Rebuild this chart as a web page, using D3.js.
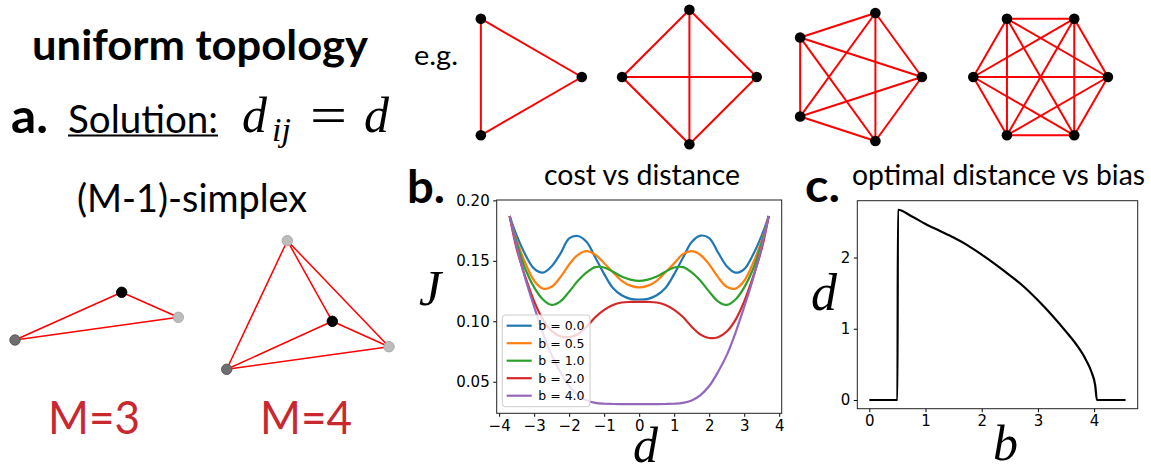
<!DOCTYPE html>
<html>
<head>
<meta charset="utf-8">
<script src="https://cdn.jsdelivr.net/npm/d3@7"></script>
<style>
  body { margin: 0; background: #fff; }
  svg { display: block; }
</style>
</head>
<body>
<svg id="fig" width="1151" height="467"></svg>
<script>
// ---- data ----
// panel b: cost J vs distance d for several biases
const dVals = [-3.7, -3.5, -3.25, -3.0, -2.75, -2.5, -2.25, -2.0, -1.75, -1.5, -1.25, -1.0, -0.75, -0.5, -0.25, 0,
               0.25, 0.5, 0.75, 1.0, 1.25, 1.5, 1.75, 2.0, 2.25, 2.5, 2.75, 3.0, 3.25, 3.5, 3.7];
const costB00 = [0.187, 0.171, 0.155, 0.1435, 0.1402, 0.1455, 0.156, 0.1685, 0.1705, 0.1655, 0.1525, 0.139, 0.1275, 0.1215, 0.1185, 0.118,
                 0.1185, 0.1215, 0.1275, 0.139, 0.1525, 0.1655, 0.1708, 0.1688, 0.157, 0.1455, 0.1402, 0.1432, 0.155, 0.171, 0.187];
const costB05 = [0.187, 0.167, 0.148, 0.1335, 0.127, 0.1285, 0.1365, 0.147, 0.155, 0.158, 0.155, 0.148, 0.1405, 0.1335, 0.1295, 0.128,
                 0.1295, 0.1335, 0.1405, 0.148, 0.1555, 0.158, 0.1548, 0.147, 0.1365, 0.1285, 0.127, 0.1335, 0.148, 0.167, 0.187];
const costB10 = [0.187, 0.165, 0.143, 0.128, 0.118, 0.1135, 0.1165, 0.1245, 0.1335, 0.1405, 0.1448, 0.1445, 0.141, 0.137, 0.1345, 0.1334,
                 0.1345, 0.137, 0.141, 0.1445, 0.1448, 0.1405, 0.1335, 0.1245, 0.1165, 0.1135, 0.118, 0.128, 0.143, 0.165, 0.187];
const costB20 = [0.187, 0.160, 0.1365, 0.1165, 0.1015, 0.092, 0.0875, 0.087, 0.0893, 0.0955, 0.1035, 0.1095, 0.1135, 0.1155, 0.116, 0.116,
                 0.116, 0.1155, 0.1135, 0.1095, 0.1035, 0.0955, 0.089, 0.0862, 0.0868, 0.0915, 0.1012, 0.1165, 0.1365, 0.160, 0.187];
const costB40 = [0.187, 0.162, 0.135, 0.112, 0.0905, 0.072, 0.058, 0.0465, 0.039, 0.0345, 0.0325, 0.0318, 0.0316, 0.0315, 0.0315, 0.0315,
                 0.0315, 0.0315, 0.0316, 0.0318, 0.0325, 0.0345, 0.039, 0.0465, 0.058, 0.072, 0.0905, 0.112, 0.135, 0.162, 0.187];
const seriesLabels = ["b = 0.0", "b = 0.5", "b = 1.0", "b = 2.0", "b = 4.0"];
const xTicksB = [-4, -3, -2, -1, 0, 1, 2, 3, 4];
const yTicksB = [0.05, 0.10, 0.15, 0.20];

// panel c: optimal distance vs bias
const biasVals = [0, 0.5, 0.51, 0.75, 1.0, 1.25, 1.5, 1.75, 2.0, 2.25, 2.5, 2.75, 3.0, 3.25, 3.5, 3.7, 3.85, 3.95, 4.02, 4.05, 4.56];
const optDist  = [0, 0, 2.67, 2.58, 2.47, 2.375, 2.28, 2.17, 2.04, 1.90, 1.75, 1.59, 1.40, 1.19, 0.96, 0.76, 0.57, 0.40, 0.20, 0, 0];
const xTicksC = [0, 1, 2, 3, 4];
const yTicksC = [0, 1, 2];

// example graphs (complete graphs on M nodes)
const exampleM = [3, 4, 5, 6];

const tab10 = ["#1f77b4", "#ff7f0e", "#2ca02c", "#d62728", "#9467bd"];
const costSeries = [costB00, costB05, costB10, costB20, costB40];

const svg = d3.select("#fig");
const sans = "Lato, 'Open Sans', sans-serif";
const serif = "'Liberation Serif', 'DejaVu Serif', serif";

function addText(x, y, str, size, opts = {}) {
    const t = svg.append("text")
        .attr("x", x).attr("y", y)
        .attr("font-family", opts.family || sans)
        .attr("font-size", size)
        .attr("font-weight", opts.weight || "normal")
        .attr("font-style", opts.style || "normal")
        .attr("fill", opts.fill || "#000")
        .attr("text-anchor", opts.anchor || "start")
        .text(str);
    if (opts.width) t.attr("textLength", opts.width).attr("lengthAdjust", "spacingAndGlyphs");
    return t;
}

// ---- panel a: texts ----
addText(32, 60, "uniform topology", 42, {weight: "bold", width: 336});
addText(11, 133, "a.", 48, {weight: "bold", width: 37});
addText(68, 133, "Solution:", 38, {width: 150});
svg.append("line").attr("x1", 68).attr("x2", 218).attr("y1", 135.5).attr("y2", 135.5)
    .attr("stroke", "#000").attr("stroke-width", 2);
addText(242, 131.7, "d", 50, {family: serif, style: "italic"});
addText(272, 141, "ij", 34, {family: serif, style: "italic"});
addText(328.5, 133, "=", 52, {family: serif, anchor: "middle", width: 37});
addText(364, 131.7, "d", 50, {family: serif, style: "italic"});
addText(77, 212, "(M-1)-simplex", 38, {width: 230});
addText(48, 434, "M=3", 46, {fill: "#c8282e", width: 92});
addText(260, 434, "M=4", 46, {fill: "#c8282e", width: 92});
addText(414, 65, "e.g.", 27, {width: 44});

// simplex sketches
const simplexes = [
    {nodes: [[15, 340, "dark"], [121.7, 292.3, "black"], [178.3, 317.3, "light"]]},
    {nodes: [[287.3, 240.7, "light"], [332.3, 321.3, "black"], [389, 346.7, "light"], [226.7, 369.3, "dark"]]}
];
const nodeFill = {dark: "#6f6f6f", light: "#bcbcbc", black: "#000"};
const nodeStroke = {dark: "#595959", light: "#a9a9a9", black: "#000"};
simplexes.forEach(s => {
    const g = svg.append("g");
    const pairs = d3.cross(d3.range(s.nodes.length), d3.range(s.nodes.length)).filter(([i, j]) => i < j);
    g.selectAll("line").data(pairs).enter().append("line")
        .attr("x1", p => s.nodes[p[0]][0]).attr("y1", p => s.nodes[p[0]][1])
        .attr("x2", p => s.nodes[p[1]][0]).attr("y2", p => s.nodes[p[1]][1])
        .attr("stroke", "#ff0000").attr("stroke-width", 1.5);
    g.selectAll("circle").data(s.nodes).enter().append("circle")
        .attr("cx", n => n[0]).attr("cy", n => n[1]).attr("r", 5.2)
        .attr("fill", n => nodeFill[n[2]]).attr("stroke", n => nodeStroke[n[2]]).attr("stroke-width", 1);
});

// complete graph examples, each a regular polygon pointing right
const graphCx = [514.5, 689.4, 854.6, 1040.6];
exampleM.forEach((m, k) => {
    const r = 67.3, cy = 77;
    const pts = d3.range(m).map(i => [graphCx[k] + r * Math.cos(2 * Math.PI * i / m), cy + r * Math.sin(2 * Math.PI * i / m)]);
    const pairs = d3.cross(d3.range(m), d3.range(m)).filter(([i, j]) => i < j);
    const g = svg.append("g");
    g.selectAll("line").data(pairs).enter().append("line")
        .attr("x1", p => pts[p[0]][0]).attr("y1", p => pts[p[0]][1])
        .attr("x2", p => pts[p[1]][0]).attr("y2", p => pts[p[1]][1])
        .attr("stroke", "#ff0000").attr("stroke-width", 2);
    g.selectAll("circle").data(pts).enter().append("circle")
        .attr("cx", p => p[0]).attr("cy", p => p[1]).attr("r", 5.3).attr("fill", "#000");
});

// ---- shared axis styling ----
function styleAxis(g) {
    g.select(".domain").remove();
    g.selectAll(".tick line").attr("stroke", "#000").attr("stroke-width", 1);
    g.selectAll(".tick text").attr("font-family", "'DejaVu Sans', sans-serif").attr("font-size", 15).attr("fill", "#000");
}

// ---- panel b: cost vs distance ----
const xB = d3.scaleLinear().domain([-4.07, 4.07]).range([496.7, 781.7]);
const yB = d3.scaleLinear().domain([0.0239, 0.2003]).range([413.3, 200]);

addText(407, 203, "b.", 46, {weight: "bold", width: 38});
addText(544, 185, "cost vs distance", 29, {width: 196});

svg.append("g").attr("transform", "translate(0,413.3)")
    .call(d3.axisBottom(xB).tickValues(xTicksB).tickSize(3.5).tickPadding(3.5).tickFormat(d3.format("d")))
    .call(styleAxis);
svg.append("g").attr("transform", "translate(496.7,0)")
    .call(d3.axisLeft(yB).tickValues(yTicksB).tickSize(3.5).tickPadding(3.5).tickFormat(d3.format(".2f")))
    .call(styleAxis);

const lineB = d3.line()
    .x((d, i) => xB(dVals[i]))
    .y(d => yB(d))
    .curve(d3.curveCatmullRom.alpha(0.5));

svg.append("g").selectAll("path").data(costSeries).enter().append("path")
    .attr("d", lineB)
    .attr("fill", "none")
    .attr("stroke", (d, i) => tab10[i])
    .attr("stroke-width", 2.2);

svg.append("rect").attr("x", 496.7).attr("y", 200).attr("width", 781.7 - 496.7).attr("height", 413.3 - 200)
    .attr("fill", "none").attr("stroke", "#222").attr("stroke-width", 1);

// legend
const legend = svg.append("g");
legend.append("rect").attr("x", 502.3).attr("y", 315).attr("width", 87.7).attr("height", 91.7).attr("rx", 3)
    .attr("fill", "#fff").attr("fill-opacity", 0.8).attr("stroke", "#cccccc");
const legendRows = seriesLabels.map((lab, i) => ({lab, color: tab10[i], y: 325.7 + i * 17.5}));
legend.selectAll("line").data(legendRows).enter().append("line")
    .attr("x1", 506.7).attr("x2", 531.7).attr("y1", d => d.y).attr("y2", d => d.y)
    .attr("stroke", d => d.color).attr("stroke-width", 2.2);
legend.selectAll("text").data(legendRows).enter().append("text")
    .attr("x", 538.3).attr("y", d => d.y).attr("dy", "0.36em")
    .attr("font-family", "'DejaVu Sans', sans-serif").attr("font-size", 12.5)
    .text(d => d.lab);

addText(430, 305, "J", 50, {family: serif, style: "italic", anchor: "middle"});
addText(645.5, 462, "d", 50, {family: serif, style: "italic", anchor: "middle"});

// ---- panel c: optimal distance vs bias ----
const xC = d3.scaleLinear().domain([-0.2135, 4.775]).range([857.3, 1137.7]);
const yC = d3.scaleLinear().domain([-0.122, 2.797]).range([408.7, 200.7]);

addText(805, 202, "c.", 46, {weight: "bold", width: 35});
addText(852, 185, "optimal distance vs bias", 29, {width: 293});

svg.append("g").attr("transform", "translate(0,408.7)")
    .call(d3.axisBottom(xC).tickValues(xTicksC).tickSize(3.5).tickPadding(3.5).tickFormat(d3.format("d")))
    .call(styleAxis);
svg.append("g").attr("transform", "translate(857.3,0)")
    .call(d3.axisLeft(yC).tickValues(yTicksC).tickSize(3.5).tickPadding(3.5).tickFormat(d3.format("d")))
    .call(styleAxis);

const lineC = d3.line()
    .x((d, i) => xC(biasVals[i]))
    .y(d => yC(d))
    .curve(d3.curveMonotoneX);

svg.append("path").datum(optDist)
    .attr("d", lineC)
    .attr("fill", "none").attr("stroke", "#000").attr("stroke-width", 2.2);

svg.append("rect").attr("x", 857.3).attr("y", 200.7).attr("width", 1137.7 - 857.3).attr("height", 408.7 - 200.7)
    .attr("fill", "none").attr("stroke", "#222").attr("stroke-width", 1);

addText(824, 309.5, "d", 52, {family: serif, style: "italic", anchor: "middle"});
addText(1005.5, 459.5, "b", 50, {family: serif, style: "italic", anchor: "middle"});
</script>
</body>
</html>
